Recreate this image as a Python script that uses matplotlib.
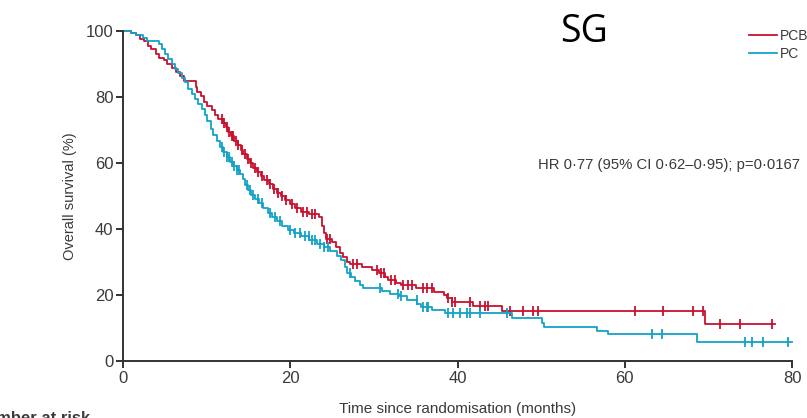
import matplotlib
matplotlib.use("Agg")
import matplotlib.pyplot as plt
import numpy as np

# ---------------- data ----------------
pcb_times = [0, 0.9, 1.5, 2.0, 2.5, 3.0, 3.4, 3.9, 4.3, 4.9, 5.3, 5.8, 6.3, 6.8, 7.3,
             8.7, 8.9, 9.3, 9.7, 10.1, 10.6, 11.0, 11.4, 11.9, 12.3, 12.6, 12.9, 13.3,
             13.7, 14.1, 14.4, 14.8, 15.2, 15.6, 16.0, 16.5, 16.9, 17.4, 17.9, 18.4,
             18.9, 19.4, 20.0, 20.6, 21.3, 22.2, 23.4, 23.8, 24.0, 24.3, 25.0, 25.5,
             25.9, 26.3, 26.8, 27.2, 28.6, 29.8, 30.6, 31.3, 31.7, 32.7, 33.3, 35.0,
             37.2, 38.4, 38.8, 39.3, 41.8, 45.3, 69.6, 78.0]
pcb_surv = [100, 99.4, 98.8, 97.5, 96.9, 95.6, 94.4, 93.1, 91.9, 91.3, 90.0, 88.8, 87.5,
            86.3, 84.9, 83.0, 81.5, 80.2, 78.6, 77.4, 76.1, 74.6, 73.3, 72.1, 70.8,
            69.4, 68.2, 66.8, 65.6, 64.0, 62.6, 61.1, 59.9, 58.5, 57.3, 56.0, 54.8,
            53.6, 52.2, 51.0, 49.9, 48.7, 47.6, 46.5, 45.3, 44.4, 43.5, 41.0, 38.8,
            37.0, 36.0, 34.4, 32.8, 31.4, 30.0, 29.3, 28.4, 27.6, 26.7, 25.5, 24.4,
            23.5, 22.9, 22.1, 21.0, 20.0, 19.0, 17.8, 16.8, 15.3, 11.2, 11.2]
pcb_censor = [11.8, 12.1, 12.4, 12.7, 13.0, 13.2, 13.5, 13.8, 14.2, 14.6, 15.0, 15.3,
              15.8, 16.2, 16.6, 17.2, 17.6, 18.1, 18.5, 19.0, 19.5, 20.2, 20.8, 21.5,
              22.0, 22.6, 23.0, 24.4, 24.8, 27.5, 28.0, 30.4, 30.9, 31.2, 32.0, 32.5,
              33.5, 34.1, 34.6, 35.9, 36.4, 37.0, 38.9, 39.3, 39.7, 41.5, 42.7, 43.3,
              43.6, 46.3, 47.8, 49.0, 49.6, 61.2, 64.6, 68.2, 69.4, 71.4, 73.8, 77.6]

pc_times = [0, 1.0, 1.6, 2.4, 2.9, 4.3, 4.7, 5.0, 5.4, 5.8, 6.2, 6.6, 7.0, 7.4, 7.8,
            8.2, 8.6, 9.0, 9.4, 9.8, 10.1, 10.5, 10.8, 11.2, 11.6, 12.0, 12.4, 12.8,
            13.2, 13.6, 14.0, 14.3, 14.6, 14.9, 15.3, 15.8, 16.3, 16.8, 17.3, 17.8,
            18.4, 19.0, 19.7, 20.4, 21.3, 22.3, 23.2, 24.0, 24.8, 25.6, 26.1, 26.5,
            26.8, 27.3, 27.8, 28.3, 28.7, 31.0, 31.9, 33.0, 34.0, 35.2, 35.6, 37.0,
            38.5, 46.5, 50.1, 50.4, 56.7, 58.0, 68.6, 80.0]
pc_surv = [100, 99.4, 98.8, 97.9, 96.9, 96.0, 94.5, 93.0, 91.5, 90.0, 88.6, 87.2, 85.8,
           84.4, 82.5, 80.8, 79.3, 77.8, 76.4, 74.5, 72.6, 70.4, 68.5, 66.6, 64.8,
           63.3, 61.8, 60.4, 59.0, 57.8, 56.6, 55.0, 53.4, 51.8, 50.3, 49.0, 47.8,
           46.3, 44.8, 43.5, 42.3, 41.0, 39.8, 38.8, 37.8, 36.8, 35.6, 34.4, 33.2,
           31.9, 30.6, 28.6, 26.7, 25.5, 24.3, 23.0, 22.1, 21.2, 20.4, 19.6, 18.5,
           17.3, 16.3, 15.5, 14.5, 13.0, 11.5, 10.3, 9.1, 8.2, 5.8, 5.8]
pc_censor = [11.8, 12.1, 12.4, 12.7, 13.0, 13.3, 13.6, 13.9, 14.8, 15.2, 15.6, 16.1,
             16.6, 17.6, 18.2, 18.8, 20.0, 20.6, 21.2, 21.8, 22.2, 22.6, 23.0, 23.5,
             24.0, 24.5, 27.1, 30.7, 32.9, 33.3, 35.1, 35.9, 36.3, 36.5, 38.9, 39.5,
             40.3, 41.1, 41.5, 42.7, 45.9, 63.3, 64.5, 74.4, 75.2, 76.5, 79.5]

series_names = ["PCB", "PC"]
x_ticks = [0, 20, 40, 60, 80]
y_ticks = [0, 20, 40, 60, 80, 100]

RED = "#c8102e"
BLUE = "#12a2c8"
TXT = "#3a3a3a"
FONT = ["Liberation Sans Narrow", "Liberation Sans", "DejaVu Sans"]

# ---------------- figure ----------------
W, H = 807, 418
fig = plt.figure(figsize=(W / 100, H / 100), dpi=100)
ax = fig.add_axes([123 / W, (H - 361) / H, (792 - 123) / W, (361 - 31) / H])


def step_value(times, surv, t):
    idx = np.searchsorted(times, t, side="right") - 1
    return np.asarray(surv)[idx]


for times, surv, cens, col, name in [
    (pcb_times, pcb_surv, pcb_censor, RED, series_names[0]),
    (pc_times, pc_surv, pc_censor, BLUE, series_names[1]),
]:
    ax.step(times, surv, where="post", color=col, lw=1.3, clip_on=False, label=name)
    cy = step_value(np.array(times), surv, np.array(cens))
    ax.plot(cens, cy, ls="none", marker="|", ms=7, mew=1.3, color=col, clip_on=False)

ax.set_xlim(0, 80)
ax.set_ylim(0, 100)
ax.set_xticks(x_ticks)
ax.set_yticks(y_ticks)
for s in ["top", "right"]:
    ax.spines[s].set_visible(False)
for s in ["left", "bottom"]:
    ax.spines[s].set_color("#333333")
    ax.spines[s].set_linewidth(1.4)
ax.tick_params(direction="out", length=5, width=1.4, color="#333333",
               labelsize=12, labelcolor=TXT, pad=2)
for lab in ax.get_xticklabels() + ax.get_yticklabels():
    lab.set_family(FONT)

ax.set_xlabel("Time since randomisation (months)", family=FONT, fontsize=11,
              color=TXT, labelpad=12)
ax.set_ylabel("Overall survival (%)", family=FONT, fontsize=10.5, color=TXT, labelpad=6)

# legend (top right)
leg = ax.legend(loc="upper left", bbox_to_anchor=(742 / W, 1 - 22 / H),
                bbox_transform=fig.transFigure, frameon=False, handlelength=2.0,
                handletextpad=0.2, labelspacing=0.3, borderpad=0,
                prop={"family": FONT, "size": 10})
for t in leg.get_texts():
    t.set_color(TXT)

fig.text(584 / W, 1 - 32 / H, "SG", family=["Open Sans", "DejaVu Sans"], fontsize=27,
         color="black", ha="center", va="center")
fig.text(538 / W, 1 - 165 / H, "HR 0·77 (95% CI 0·62–0·95); p=0·0167", family=FONT,
         fontsize=10.7, color=TXT, ha="left", va="center")
fig.text(-26 / W, 1 - 411 / H, "Number at risk", family=FONT, fontsize=12,
         fontweight="bold", color=TXT, ha="left", va="top")

fig.savefig("out.png", dpi=100)
